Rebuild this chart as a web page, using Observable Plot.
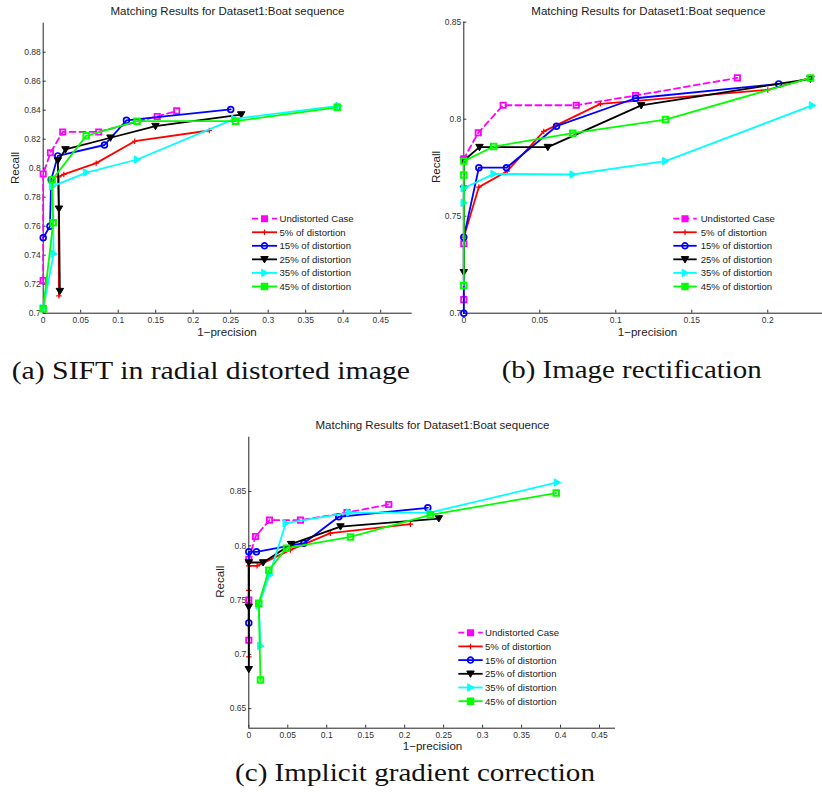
<!DOCTYPE html>
<html>
<head>
<meta charset="utf-8">
<script src="https://cdn.jsdelivr.net/npm/d3@7"></script>
<script src="https://cdn.jsdelivr.net/npm/@observablehq/plot@0.6"></script>
<style>
  html, body { margin: 0; padding: 0; background: #fff; overflow: hidden; }
  #page { position: relative; width: 822px; height: 803px; overflow: hidden; background: #fff; }
  #page svg { position: absolute; left: 0; top: 0; }
</style>
</head>
<body>
<div id="page"></div>
<script>
// ---- Series labels -------------------------------------------------------
const seriesNames = [
  "Undistorted Case",
  "5% of distortion",
  "15% of distortion",
  "25% of distortion",
  "35% of distortion",
  "45% of distortion"
];
const chartTitle = "Matching Results for Dataset1:Boat sequence";
const xLabel = "1\u2212precision";
const yLabel = "Recall";
const captions = [
  "(a) SIFT in radial distorted image",
  "(b) Image rectification",
  "(c) Implicit gradient correction"
];

// ---- (a) SIFT in radial distorted image: [1-precision, recall] -----------
const siftUndistorted = [[0, 0.7225], [0, 0.796], [0.0097, 0.8107], [0.026, 0.825], [0.074, 0.825], [0.152, 0.8357], [0.178, 0.8395]];
const siftD5  = [[0.021, 0.712], [0.0205, 0.794], [0.0275, 0.7957], [0.0707, 0.8035], [0.122, 0.8186], [0.2215, 0.826]];
const siftD15 = [[0, 0.752], [0.009, 0.76], [0.0107, 0.792], [0.0195, 0.8085], [0.0817, 0.816], [0.111, 0.833], [0.25, 0.8405]];
const siftD25 = [[0.0222, 0.7152], [0.021, 0.772], [0.0195, 0.8053], [0.0297, 0.8129], [0.0897, 0.821], [0.1497, 0.829], [0.264, 0.837]];
const siftD35 = [[0, 0.7035], [0.014, 0.741], [0.012, 0.7875], [0.0577, 0.797], [0.1253, 0.806], [0.255, 0.834], [0.394, 0.843]];
const siftD45 = [[0, 0.703], [0.0133, 0.7623], [0.012, 0.792], [0.0573, 0.8223], [0.1253, 0.8324], [0.2564, 0.8324], [0.392, 0.842]];

// ---- (b) Image rectification ----------------------------------------------
const rectUndistorted = [[0, 0.707], [0, 0.7358], [0, 0.7796], [0.0095, 0.793], [0.0259, 0.8072], [0.074, 0.8072], [0.113, 0.8122], [0.18, 0.8213]];
const rectD5  = [[0, 0.7392], [0.0099, 0.765], [0.0285, 0.7732], [0.0526, 0.7937], [0.0899, 0.8079], [0.2, 0.8151], [0.2281, 0.8213]];
const rectD15 = [[0, 0.7], [0, 0.7392], [0.0099, 0.775], [0.0281, 0.775], [0.061, 0.7964], [0.113, 0.8108], [0.2072, 0.8182]];
const rectD25 = [[0, 0.7211], [0, 0.7641], [0, 0.7787], [0.0103, 0.7856], [0.0553, 0.7856], [0.1167, 0.8071], [0.2281, 0.8208]];
const rectD35 = [[0, 0.7569], [0, 0.7644], [0.0197, 0.7718], [0.0717, 0.7715], [0.1327, 0.7784], [0.2292, 0.8071]];
const rectD45 = [[0, 0.7143], [0, 0.7713], [0, 0.7784], [0.0197, 0.7859], [0.0717, 0.7928], [0.1327, 0.7998], [0.2281, 0.8213]];

// ---- (c) Implicit gradient correction -------------------------------------
const implUndistorted = [[0, 0.713], [0, 0.75], [0, 0.7876], [0.0086, 0.8085], [0.0265, 0.8236], [0.0663, 0.8236], [0.126, 0.8306], [0.1796, 0.838]];
const implD5  = [[0, 0.6976], [0, 0.759], [0, 0.7815], [0.0107, 0.7815], [0.0535, 0.7962], [0.1048, 0.8116], [0.2074, 0.8199]];
const implD15 = [[0, 0.729], [0, 0.7944], [0.0098, 0.7944], [0.0706, 0.8024], [0.1155, 0.8267], [0.2297, 0.835]];
const implD25 = [[0, 0.6863], [0, 0.7437], [0, 0.7846], [0.0184, 0.7846], [0.0543, 0.8015], [0.1176, 0.8177], [0.2438, 0.8251]];
const implD35 = [[0.015, 0.7078], [0.0128, 0.7452], [0.0265, 0.7732], [0.0475, 0.8208], [0.1292, 0.8306], [0.2323, 0.8306], [0.3956, 0.8583]];
const implD45 = [[0.015, 0.6764], [0.0128, 0.7471], [0.0257, 0.7775], [0.0483, 0.7978], [0.1305, 0.8082], [0.2331, 0.8285], [0.3944, 0.8485]];

// ---- Axis domains and tick values -----------------------------------------
const xTicksWide = [0, 0.05, 0.1, 0.15, 0.2, 0.25, 0.3, 0.35, 0.4, 0.45];
const xTicksNarrow = [0, 0.05, 0.1, 0.15, 0.2];
const yTicksA = [0.7, 0.72, 0.74, 0.76, 0.78, 0.8, 0.82, 0.84, 0.86, 0.88];
const yTicksB = [0.7, 0.75, 0.8, 0.85];
const yTicksC = [0.65, 0.7, 0.75, 0.8, 0.85];

// ---- Marker shapes (MATLAB-style 'v' and '>') -----------------------------
const triangleDown = {
  draw(ctx, size) {
    const s = Math.sqrt(size) * 0.6;
    ctx.moveTo(-s, -s * 0.75);
    ctx.lineTo(s, -s * 0.75);
    ctx.lineTo(0, s * 0.95);
    ctx.closePath();
  }
};
const triangleRight = {
  draw(ctx, size) {
    const s = Math.sqrt(size) * 0.6;
    ctx.moveTo(-s * 0.75, -s);
    ctx.lineTo(-s * 0.75, s);
    ctx.lineTo(s * 0.95, 0);
    ctx.closePath();
  }
};

const seriesStyle = [
  {color: "#ff00ff", dash: "6,4", symbol: "square", filled: false, r: 3.0, sw: 1.8},
  {color: "#ff0000", dash: null, symbol: "plus", filled: false, r: 1.9, sw: 1.2},
  {color: "#0000ff", dash: null, symbol: "circle", filled: false, r: 2.9, sw: 1.7},
  {color: "#000000", dash: null, symbol: triangleDown, filled: true, r: 3.5, sw: 1},
  {color: "#00ffff", dash: null, symbol: triangleRight, filled: true, r: 3.5, sw: 1},
  {color: "#00ff00", dash: null, symbol: "square", filled: false, r: 3.1, sw: 2}
];

const W = 840, H = 803;
const fmt = d => String(+d.toFixed(3));

function panel({xDomain, yDomain, xTicks, yTicks, frame, series}) {
  const marks = [
    Plot.ruleX([xDomain[0]], {stroke: "#222", strokeWidth: 1}),
    Plot.ruleY([yDomain[0]], {stroke: "#222", strokeWidth: 1}),
    Plot.axisX({ticks: xTicks, tickSize: -3, tickPadding: 7, tickFormat: fmt, label: null}),
    Plot.axisY({ticks: yTicks, tickSize: -3, tickPadding: 5.5, tickFormat: fmt, label: null})
  ];
  series.forEach((pts, i) => {
    const s = seriesStyle[i];
    marks.push(Plot.line(pts, {
      x: d => d[0], y: d => d[1], stroke: s.color, strokeWidth: 1.8,
      strokeDasharray: s.dash || undefined, curve: "linear"
    }));
    marks.push(Plot.dot(pts, {
      x: d => d[0], y: d => d[1], symbol: s.symbol, r: s.r,
      stroke: s.color, strokeWidth: s.sw,
      fill: s.filled ? s.color : "none"
    }));
  });
  return Plot.plot({
    width: W, height: H,
    marginLeft: frame.left, marginRight: W - frame.right,
    marginTop: frame.top, marginBottom: H - frame.bottom,
    x: {domain: xDomain},
    y: {domain: yDomain},
    style: {
      background: "transparent", color: "#333", fontFamily: "Liberation Sans, Arial, sans-serif",
      fontSize: "8.5px", maxWidth: "none", overflow: "visible"
    },
    marks
  });
}

const page = document.getElementById("page");

const panels = [
  {
    xDomain: [0, 0.492], yDomain: [0.7, 0.9], xTicks: xTicksWide, yTicks: yTicksA,
    frame: {left: 42.7, right: 411.7, top: 22.7, bottom: 312.7},
    series: [siftUndistorted, siftD5, siftD15, siftD25, siftD35, siftD45],
    title: {x: 227.5, y: 11}, ylab: {x: 14, y: 168}, xlab: {x: 227, y: 331.7},
    legend: {x0: 252, x1: 277, tx: 279.5, y0: 218.7, dy: 13.55},
    caption: {x0: 11.7, x1: 410, y: 379}
  },
  {
    xDomain: [0, 0.2424], yDomain: [0.7, 0.85], xTicks: xTicksNarrow, yTicks: yTicksB,
    frame: {left: 463.3, right: 831.7, top: 21.7, bottom: 312.7},
    series: [rectUndistorted, rectD5, rectD15, rectD25, rectD35, rectD45],
    title: {x: 648.3, y: 11}, ylab: {x: 435.7, y: 167}, xlab: {x: 647.5, y: 331.7},
    legend: {x0: 673.3, x1: 696.7, tx: 700.7, y0: 218.7, dy: 13.55},
    caption: {x0: 501.7, x1: 761.7, y: 378}
  },
  {
    xDomain: [0, 0.4705], yDomain: [0.632, 0.9], xTicks: xTicksWide, yTicks: yTicksC,
    frame: {left: 248.3, right: 615, top: 436.7, bottom: 727.7},
    series: [implUndistorted, implD5, implD15, implD25, implD35, implD45],
    title: {x: 432.5, y: 425}, ylab: {x: 219.3, y: 581.7}, xlab: {x: 432.5, y: 745.7},
    legend: {x0: 458.3, x1: 482.7, tx: 485, y0: 632.7, dy: 13.7},
    caption: {x0: 235, x1: 595, y: 781}
  }
];

panels.forEach(p => page.appendChild(panel(p)));

// ---- Titles, axis names, legends and captions ----------------------------
const svg = d3.select(page).append("svg")
  .attr("width", 822).attr("height", 803)
  .style("font-family", "Liberation Sans, Arial, sans-serif");

const symbolFor = s => (typeof s.symbol === "string")
  ? {square: d3.symbolSquare, circle: d3.symbolCircle, plus: d3.symbolPlus}[s.symbol]
  : s.symbol;

panels.forEach(p => {
  svg.append("text").attr("x", p.title.x).attr("y", p.title.y)
    .attr("text-anchor", "middle").attr("dominant-baseline", "central")
    .attr("font-size", 11.5).attr("fill", "#222").text(chartTitle);
  svg.append("text")
    .attr("transform", `translate(${p.ylab.x},${p.ylab.y}) rotate(-90)`)
    .attr("text-anchor", "middle").attr("dominant-baseline", "central")
    .attr("font-size", 11.6).attr("fill", "#222").text(yLabel);
  svg.append("text").attr("x", p.xlab.x).attr("y", p.xlab.y)
    .attr("text-anchor", "middle").attr("dominant-baseline", "central")
    .attr("font-size", 11.6).attr("fill", "#222").text(xLabel);

  const L = p.legend;
  seriesNames.forEach((name, i) => {
    const s = seriesStyle[i];
    const y = L.y0 + i * L.dy;
    svg.append("line").attr("x1", L.x0).attr("x2", L.x1).attr("y1", y).attr("y2", y)
      .attr("stroke", s.color).attr("stroke-width", 1.8)
      .attr("stroke-dasharray", s.dash || null);
    const filledInLegend = s.symbol !== "plus" && s.symbol !== "circle";
    svg.append("path")
      .attr("transform", `translate(${(L.x0 + L.x1) / 2},${y})`)
      .attr("d", d3.symbol(symbolFor(s), Math.PI * s.r * s.r)())
      .attr("fill", filledInLegend ? s.color : "none")
      .attr("stroke", s.color).attr("stroke-width", s.sw);
    svg.append("text").attr("x", L.tx).attr("y", y)
      .attr("dominant-baseline", "central").attr("font-size", 9.6)
      .attr("fill", "#222").text(name);
  });
});

captions.forEach((c, i) => {
  const cap = panels[i].caption;
  svg.append("text").attr("x", cap.x0).attr("y", cap.y)
    .attr("font-family", "Liberation Serif, 'DejaVu Serif', serif")
    .attr("font-size", 25).attr("fill", "#111")
    .attr("textLength", cap.x1 - cap.x0).attr("lengthAdjust", "spacingAndGlyphs")
    .text(c);
});
</script>
</body>
</html>
